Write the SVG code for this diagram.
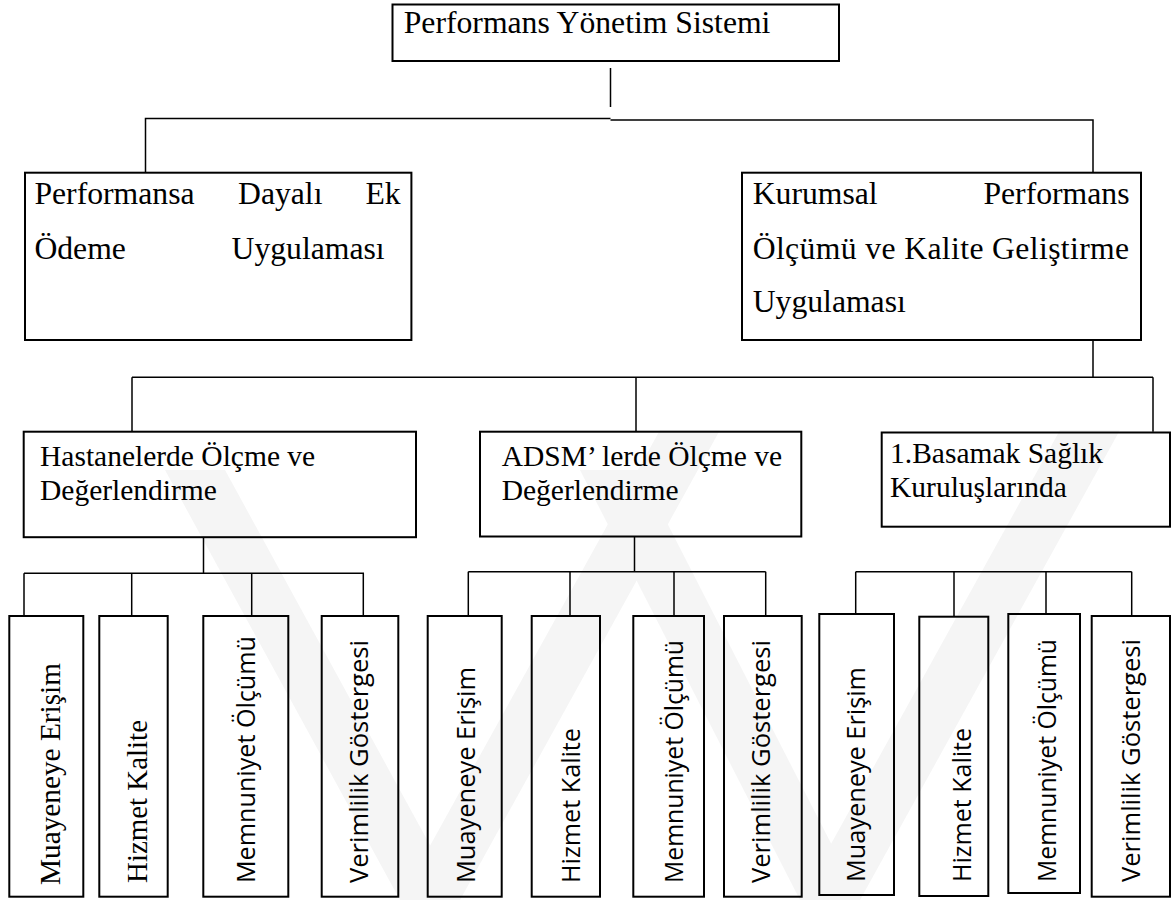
<svg xmlns="http://www.w3.org/2000/svg" width="1175" height="900" viewBox="0 0 1175 900">
  <style>
    .box { fill: none; stroke: #000; stroke-width: 2; }
    .ln { fill: none; stroke: #000; stroke-width: 1.5; }
    .wm { fill: #f5f5f5; }
    .serif { font-family: "Liberation Serif", "Times New Roman", serif; fill: #000; }
    .sans { font-family: "Open Sans", "Noto Sans", sans-serif; fill: #000; }
    .l1 { font-size: 31.7px; }
    .l2 { font-size: 29.5px; }
    .l3s { font-size: 29.5px; }
    .l3 { font-size: 25px; }
  </style>

  <rect width="1175" height="900" fill="#fff"/>

  <!-- faint background mark -->
  <g id="backmark">
    <polygon class="wm" points="165,470 225,470 460,900 400,900"/>
    <polygon class="wm" points="400,900 460,900 720,430 660,430"/>
    <polygon class="wm" points="580,470 640,470 860,900 800,900"/>
    <polygon class="wm" points="800,900 860,900 1120,430 1060,430"/>
  </g>

  <!-- connectors -->
  <g id="connectors">
    <!-- root to level 1 -->
    <line class="ln" x1="610.5" y1="68" x2="610.5" y2="107"/>
    <polyline class="ln" points="145.5,172.7 145.5,118.5 610.5,118.5"/>
    <polyline class="ln" points="610.5,120 1093,120 1093,172.7"/>
    <!-- level 1 (right) to level 2 -->
    <line class="ln" x1="1093" y1="340" x2="1093" y2="377.3"/>
    <line class="ln" x1="132" y1="377.3" x2="1153" y2="377.3"/>
    <line class="ln" x1="132" y1="377.3" x2="132" y2="431.7"/>
    <line class="ln" x1="636" y1="377.3" x2="636" y2="431.7"/>
    <line class="ln" x1="1153" y1="377.3" x2="1153" y2="431.7"/>
    <!-- hospitals group -->
    <line class="ln" x1="203.5" y1="537.7" x2="203.5" y2="573.3"/>
    <line class="ln" x1="24" y1="573.3" x2="364" y2="573.3"/>
    <line class="ln" x1="24" y1="573.3" x2="24" y2="616"/>
    <line class="ln" x1="131.7" y1="573.3" x2="131.7" y2="616"/>
    <line class="ln" x1="251.7" y1="573.3" x2="251.7" y2="616"/>
    <line class="ln" x1="363.3" y1="573.3" x2="363.3" y2="616"/>
    <!-- ADSM group -->
    <line class="ln" x1="634.5" y1="536.7" x2="634.5" y2="571.7"/>
    <line class="ln" x1="468.3" y1="571.7" x2="765.7" y2="571.7"/>
    <line class="ln" x1="468.3" y1="571.7" x2="468.3" y2="616"/>
    <line class="ln" x1="570" y1="571.7" x2="570" y2="616"/>
    <line class="ln" x1="674" y1="571.7" x2="674" y2="616"/>
    <line class="ln" x1="765.7" y1="571.7" x2="765.7" y2="616"/>
    <!-- primary care group -->
    <line class="ln" x1="855.7" y1="571.7" x2="1131.7" y2="571.7"/>
    <line class="ln" x1="855.7" y1="571.7" x2="855.7" y2="614"/>
    <line class="ln" x1="954" y1="571.7" x2="954" y2="616.7"/>
    <line class="ln" x1="1046" y1="571.7" x2="1046" y2="614"/>
    <line class="ln" x1="1131.7" y1="571.7" x2="1131.7" y2="616"/>
  </g>

  <!-- root -->
  <g id="n-root">
    <rect class="box" x="392.5" y="4.5" width="446.5" height="56.5"/>
    <text class="serif l1" x="403.7" y="33.3">Performans Yönetim Sistemi</text>
  </g>

  <!-- level 1 -->
  <g id="n-ek-odeme">
    <rect class="box" x="25" y="172.7" width="386.4" height="167.3"/>
    <text class="serif l1" y="204"><tspan x="34.4">Performansa</tspan><tspan x="238">Dayalı</tspan><tspan x="365.5">Ek</tspan></text>
    <text class="serif l1" y="259"><tspan x="34.4">Ödeme</tspan><tspan x="231.5">Uygulaması</tspan></text>
  </g>

  <g id="n-kurumsal">
    <rect class="box" x="742" y="172.7" width="399" height="167.3"/>
    <text class="serif l1" y="204"><tspan x="752.7">Kurumsal</tspan></text>
    <text class="serif l1" x="1129.5" y="204" text-anchor="end">Performans</text>
    <text class="serif l1" x="752.7" y="259" textLength="376.5" lengthAdjust="spacing">Ölçümü ve Kalite Geliştirme</text>
    <text class="serif l1" x="752.7" y="312">Uygulaması</text>
  </g>

  <!-- level 2 -->
  <g id="n-hastaneler">
    <rect class="box" x="23.7" y="431.7" width="392.3" height="105.5"/>
    <text class="serif l2" x="40" y="466">Hastanelerde Ölçme ve</text>
    <text class="serif l2" x="40" y="500">Değerlendirme</text>
  </g>

  <g id="n-adsm">
    <rect class="box" x="480" y="431.7" width="321.3" height="104.8"/>
    <text class="serif l2" x="501.7" y="466">ADSM’ lerde Ölçme ve</text>
    <text class="serif l2" x="501.7" y="500">Değerlendirme</text>
  </g>

  <g id="n-basamak">
    <rect class="box" x="881.7" y="432.5" width="288.3" height="94.2"/>
    <text class="serif l2" x="890" y="463">1.Basamak Sağlık</text>
    <text class="serif l2" x="890" y="497">Kuruluşlarında</text>
  </g>

  <!-- level 3: hospitals -->
  <g id="n-h-muayene">
    <rect class="box" x="9.3" y="616" width="74" height="280.7"/>
    <text class="serif l3s" transform="translate(60,885) rotate(-90)" textLength="222" lengthAdjust="spacingAndGlyphs">Muayeneye Erişim</text>
  </g>
  <g id="n-h-hizmet">
    <rect class="box" x="99.3" y="616" width="68.4" height="280.7"/>
    <text class="serif l3s" transform="translate(146.5,883) rotate(-90)" textLength="163" lengthAdjust="spacingAndGlyphs">Hizmet Kalite</text>
  </g>
  <g id="n-h-memnuniyet">
    <rect class="box" x="203.3" y="616" width="85" height="280.7"/>
    <text class="sans l3" transform="translate(255,883) rotate(-90)" textLength="247" lengthAdjust="spacingAndGlyphs">Memnuniyet Ölçümü</text>
  </g>
  <g id="n-h-verimlilik">
    <rect class="box" x="321.7" y="616" width="76.6" height="280.7"/>
    <text class="sans l3" transform="translate(368,883) rotate(-90)" textLength="243" lengthAdjust="spacingAndGlyphs">Verimlilik Göstergesi</text>
  </g>

  <!-- level 3: ADSM -->
  <g id="n-a-muayene">
    <rect class="box" x="427.7" y="616" width="74" height="280.7"/>
    <text class="sans l3" transform="translate(475,883) rotate(-90)" textLength="216" lengthAdjust="spacingAndGlyphs">Muayeneye Erişim</text>
  </g>
  <g id="n-a-hizmet">
    <rect class="box" x="531.7" y="616" width="68.3" height="280.7"/>
    <text class="sans l3" transform="translate(580,883) rotate(-90)" textLength="155" lengthAdjust="spacingAndGlyphs">Hizmet Kalite</text>
  </g>
  <g id="n-a-memnuniyet">
    <rect class="box" x="633.3" y="616" width="70.7" height="280.7"/>
    <text class="sans l3" transform="translate(683,883) rotate(-90)" textLength="243" lengthAdjust="spacingAndGlyphs">Memnuniyet Ölçümü</text>
  </g>
  <g id="n-a-verimlilik">
    <rect class="box" x="724" y="616" width="77.7" height="280.7"/>
    <text class="sans l3" transform="translate(770,883) rotate(-90)" textLength="243" lengthAdjust="spacingAndGlyphs">Verimlilik Göstergesi</text>
  </g>

  <!-- level 3: primary care -->
  <g id="n-b-muayene">
    <rect class="box" x="819.3" y="614" width="74.7" height="281"/>
    <text class="sans l3" transform="translate(865,882) rotate(-90)" textLength="215" lengthAdjust="spacingAndGlyphs">Muayeneye Erişim</text>
  </g>
  <g id="n-b-hizmet">
    <rect class="box" x="919.3" y="616.7" width="69" height="279.3"/>
    <text class="sans l3" transform="translate(971,882) rotate(-90)" textLength="154" lengthAdjust="spacingAndGlyphs">Hizmet Kalite</text>
  </g>
  <g id="n-b-memnuniyet">
    <rect class="box" x="1008.3" y="614" width="71.7" height="279"/>
    <text class="sans l3" transform="translate(1056,882) rotate(-90)" textLength="243" lengthAdjust="spacingAndGlyphs">Memnuniyet Ölçümü</text>
  </g>
  <g id="n-b-verimlilik">
    <rect class="box" x="1091.7" y="616" width="78.3" height="280.7"/>
    <text class="sans l3" transform="translate(1140,882) rotate(-90)" textLength="243" lengthAdjust="spacingAndGlyphs">Verimlilik Göstergesi</text>
  </g>
</svg>
